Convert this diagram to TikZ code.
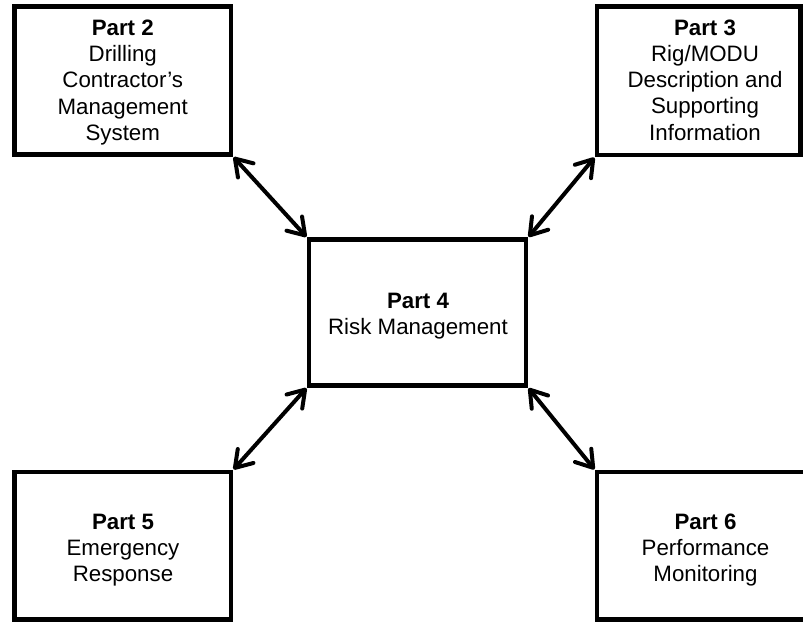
\documentclass[tikz,border=0pt]{standalone}
\usepackage{fontspec}
\setmainfont{Liberation Sans}
\usetikzlibrary{arrows.meta}

\tikzset{
  partbox/.style={draw, line width=4.5pt, inner sep=0pt, fill=none},
  parttext/.style={inner sep=0pt, align=center,
    font=\fontsize{22.3}{26.2}\selectfont},
  barb/.tip={Straight Barb[length=16pt, width=21pt, line cap=round, line join=round]},
  link/.style={line width=4pt, {barb}-{barb},
    shorten <=0.5pt, shorten >=0.5pt}
}

\begin{document}
\begin{tikzpicture}[x=1pt, y=-1pt]
  \useasboundingbox (0,0) rectangle (803,622);
  \clip (0,0) rectangle (803,622);

  % outer boxes
  \node[partbox, minimum width=216.5pt, minimum height=148pt] (b2) at (122.75,80.5) {};
  \node[partbox, minimum width=203.5pt, minimum height=148.5pt] (b3) at (698.75,80.75) {};
  \node[partbox, minimum width=217pt, minimum height=146pt] (b4) at (417.5,312.5) {};
  \node[partbox, minimum width=216.5pt, minimum height=147.5pt] (b5) at (122.75,545.75) {};
  \node[partbox, minimum width=217pt, minimum height=147.5pt] (b6) at (705.5,545.75) {};

  % box labels
  \node[parttext] (t2) at (122.75,82.4) {\textbf{Part 2}\\Drilling\\Contractor’s\\Management\\System};
  \node[parttext] (t3) at (705,80.1) {\textbf{Part 3}\\Rig/MODU\\Description and\\Supporting\\Information};
  \node[parttext] (t4) at (418,315.9) {\textbf{Part 4}\\Risk Management};
  \node[parttext] (t5) at (123,549.9) {\textbf{Part 5}\\Emergency\\Response};
  \node[parttext] (t6) at (705.5,549.9) {\textbf{Part 6}\\Performance\\Monitoring};

  % two-way links to the centre box
  \draw[link] (b2.south east) -- (b4.north west);
  \draw[link] (b3.south west) -- (b4.north east);
  \draw[link] (b5.north east) -- (b4.south west);
  \draw[link] (b6.north west) -- (b4.south east);
\end{tikzpicture}
\end{document}
